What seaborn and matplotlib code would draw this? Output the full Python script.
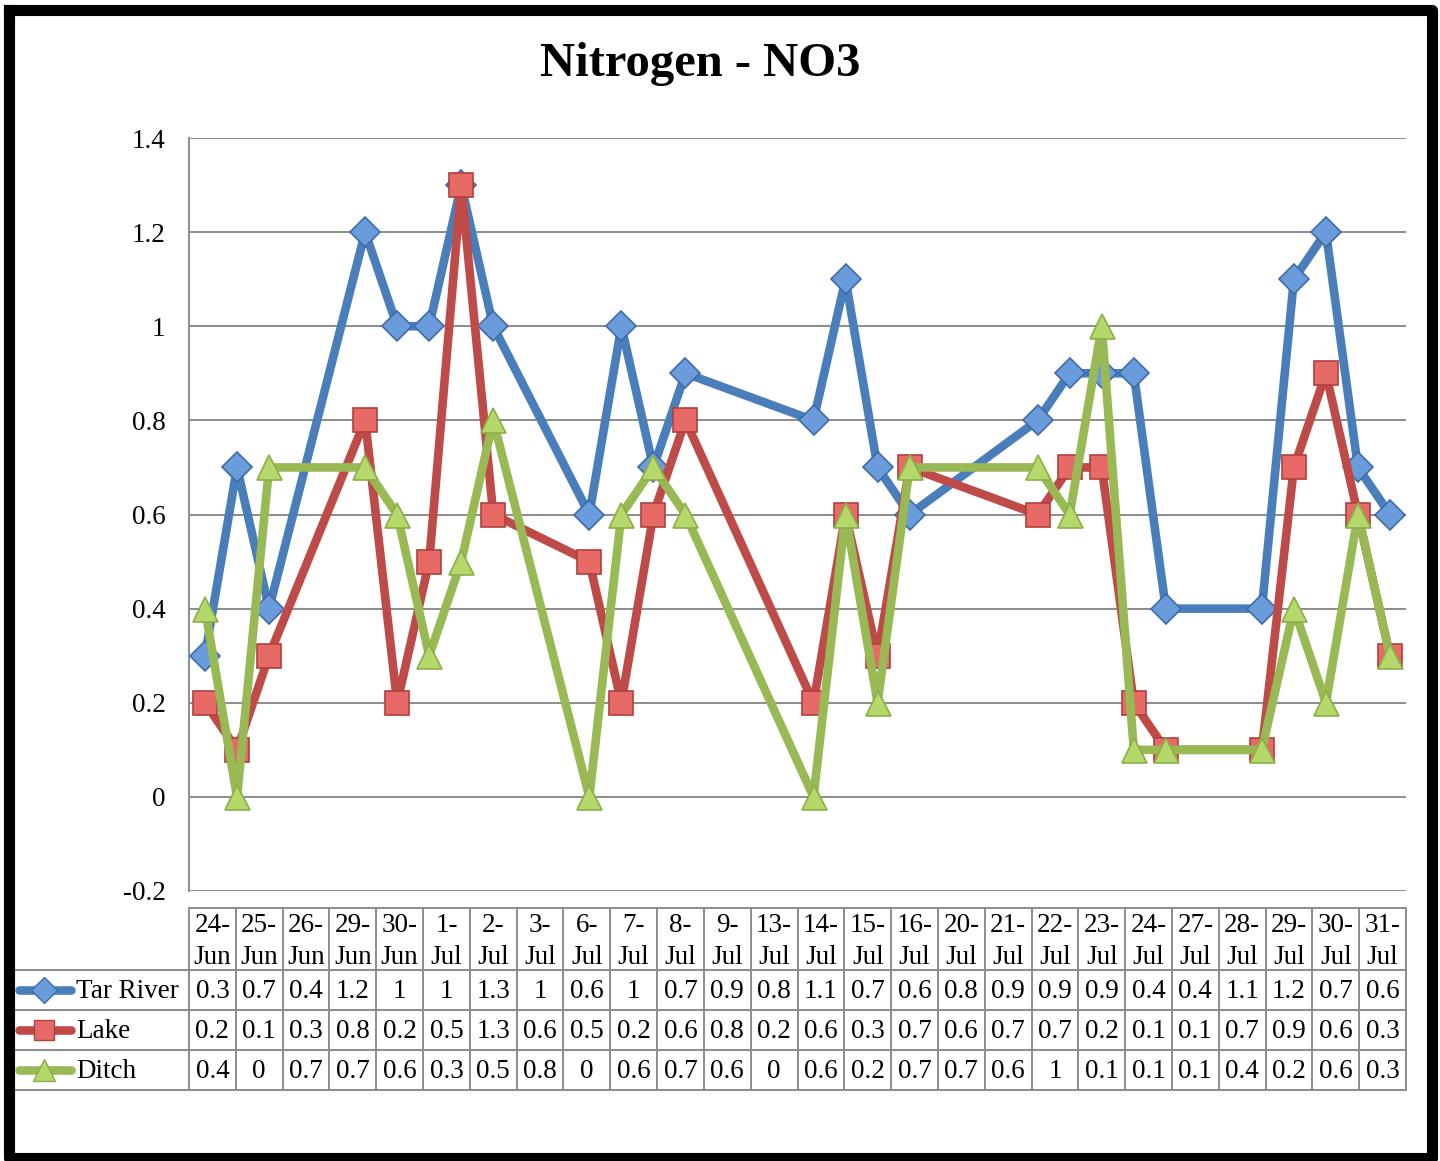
import matplotlib
matplotlib.use("Agg")
import matplotlib.pyplot as plt
import seaborn as sns
import pandas as pd

dates = ["24-Jun", "25-Jun", "26-Jun", "29-Jun", "30-Jun", "1-Jul", "2-Jul", "3-Jul",
         "6-Jul", "7-Jul", "8-Jul", "9-Jul", "13-Jul", "14-Jul", "15-Jul", "16-Jul",
         "20-Jul", "21-Jul", "22-Jul", "23-Jul", "24-Jul", "27-Jul", "28-Jul", "29-Jul",
         "30-Jul", "31-Jul"]
tar_river = [0.3, 0.7, 0.4, 1.2, 1, 1, 1.3, 1, 0.6, 1, 0.7, 0.9, 0.8, 1.1, 0.7, 0.6,
             0.8, 0.9, 0.9, 0.9, 0.4, 0.4, 1.1, 1.2, 0.7, 0.6]
lake = [0.2, 0.1, 0.3, 0.8, 0.2, 0.5, 1.3, 0.6, 0.5, 0.2, 0.6, 0.8, 0.2, 0.6, 0.3, 0.7,
        0.6, 0.7, 0.7, 0.2, 0.1, 0.1, 0.7, 0.9, 0.6, 0.3]
ditch = [0.4, 0, 0.7, 0.7, 0.6, 0.3, 0.5, 0.8, 0, 0.6, 0.7, 0.6, 0, 0.6, 0.2, 0.7,
         0.7, 0.6, 1, 0.1, 0.1, 0.1, 0.4, 0.2, 0.6, 0.3]
series_names = ["Tar River", "Lake", "Ditch"]
yticks = [-0.2, 0, 0.2, 0.4, 0.6, 0.8, 1, 1.2, 1.4]

# excel style look
line_cols = ["#4A7EBB", "#BE4B48", "#98B954"]
face_cols = ["#6A9BDA", "#E86A67", "#B4D96A"]
edge_cols = ["#3C6CA8", "#B0403D", "#8CAE48"]
markers = ["D", "s", "^"]
msizes = [15, 17, 18]
grid_col = "#8C8C8C"
fs = 19.5

sns.set_style("white")
plt.rcParams["font.family"] = ["Liberation Serif", "DejaVu Serif"]
plt.rcParams["text.color"] = "black"
plt.rcParams["ytick.color"] = "black"

# date axis: position = days since first sample
dt = pd.to_datetime([d + "-2009" for d in dates], format="%d-%b-%Y")
days = (dt - dt[0]).days
df = pd.DataFrame({"day": list(days) * 3,
                   "value": tar_river + lake + ditch,
                   "site": sum([[n] * len(dates) for n in series_names], [])})

W, H = 1440, 1161
fig = plt.figure(figsize=(W / 100, H / 100), dpi=100)

# main plot area in pixels: x 189..1406, y 138..891
ax = fig.add_axes([189 / W, 1 - 891 / H, 1217 / W, 753 / H])
for i, name in enumerate(series_names):
    sns.lineplot(data=df[df.site == name], x="day", y="value", ax=ax,
                 color=line_cols[i], linewidth=6.2, marker=markers[i],
                 markersize=msizes[i], markerfacecolor=face_cols[i],
                 markeredgecolor=edge_cols[i], markeredgewidth=1.2,
                 legend=False, zorder=3 + i)
ax.set_xlim(days[0] - 0.5, days[-1] + 0.5)
ax.set_ylim(-0.2, 1.4)
ax.set_yticks(yticks)
ax.set_yticklabels(["%g" % v for v in yticks], fontsize=fs)
ax.set_xticks([])
ax.set_xlabel("")
ax.set_ylabel("")
ax.yaxis.grid(True, color=grid_col, linewidth=1.4)
ax.set_axisbelow(True)
for s in ["top", "right", "bottom"]:
    ax.spines[s].set_visible(False)
ax.spines["left"].set_color(grid_col)
ax.spines["left"].set_linewidth(1.4)
ax.tick_params(axis="y", length=0, pad=17)

# overlay axes in pixel coords for title, data table and frame
ov = fig.add_axes([0, 0, 1, 1], zorder=-1)
ov.set_xlim(0, W)
ov.set_ylim(H, 0)
ov.axis("off")

ov.text(700, 64, "Nitrogen - NO3", ha="center", va="center",
        fontsize=35, fontweight="bold")

x0, x1 = 189, 1406
ncol = len(dates)
cw = (x1 - x0) / ncol
y_head, y_rows = 908, [970, 1010, 1050, 1090]
tl = dict(color=grid_col, linewidth=1.4)
ov.plot([x0, x1], [y_head, y_head], **tl)
for y in y_rows:
    ov.plot([15, x1], [y, y], **tl)
for j in range(ncol + 1):
    ov.plot([x0 + j * cw] * 2, [y_head, y_rows[-1]], **tl)

for j, d in enumerate(dates):
    cx = x0 + (j + 0.5) * cw
    day, mon = d.split("-")
    ov.text(cx, 926, day + "-", ha="center", va="center", fontsize=fs)
    ov.text(cx, 957, mon, ha="center", va="center", fontsize=fs)

for r, (name, vals) in enumerate(zip(series_names, [tar_river, lake, ditch])):
    cy = (y_rows[r] + y_rows[r + 1]) / 2
    ov.plot([19, 71], [cy, cy], color=line_cols[r], linewidth=6.2,
            solid_capstyle="round")
    ov.plot([44], [cy], marker=markers[r], markersize=msizes[r] - 2,
            markerfacecolor=face_cols[r], markeredgecolor=edge_cols[r])
    ov.text(76, cy + 2, name, ha="left", va="center", fontsize=fs)
    for j, v in enumerate(vals):
        ov.text(x0 + (j + 0.5) * cw, cy + 2, "%g" % v, ha="center",
                va="center", fontsize=fs)

# thick black border around the figure
fr = dict(color="black", linewidth=8, solid_capstyle="projecting")
ov.plot([9, 1432, 1432, 9, 9], [10, 10, 1158, 1158, 10], **fr)

fig.savefig("out.png", dpi=100)
